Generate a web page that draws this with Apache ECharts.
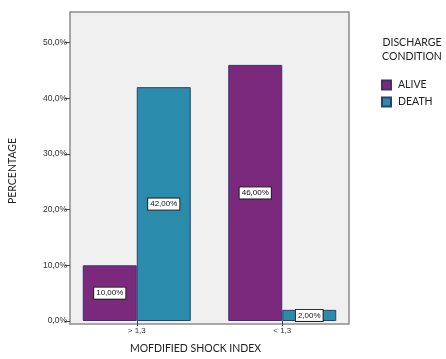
<!DOCTYPE html>
<html><head><meta charset="utf-8">
<script src="https://cdn.jsdelivr.net/npm/echarts@6/dist/echarts.min.js"></script>
<style>html,body{margin:0;padding:0;background:#fff}#c{width:446px;height:359px}</style>
</head><body><div id="c"></div>
<script>
var categories = ['> 1,3', '< 1,3'];
var alive = [10, 46];
var death = [42, 2];
var seriesNames = ['ALIVE', 'DEATH'];
var yTicks = [0, 10, 20, 30, 40, 50];

function pct2(v){ return v.toFixed(2).replace('.', ',') + '%'; }
function pct1(v){ return v.toFixed(1).replace('.', ',') + '%'; }

var chart = echarts.init(document.getElementById('c'), null, {renderer:'canvas'});
var FONT = 'Lato';
var labelStyle = {
  show: true, position: 'inside', color: '#111', fontSize: 8, fontFamily: 'Liberation Sans',
  backgroundColor: '#fff', borderColor: '#222', borderWidth: 1, padding: [2, 2, 1, 2],
  formatter: function(p){ return pct2(p.value); }
};
chart.setOption({
  animation: false,
  backgroundColor: '#fff',
  graphic: [{
    type: 'rect', z: -10, silent: true,
    shape: {x: 70, y: 12, width: 279, height: 312},
    style: {fill: '#f0f0f0', stroke: '#8c8c8c', lineWidth: 1.5}
  }, {
    type: 'text', x: 412, y: 43, silent: true,
    style: {text: 'DISCHARGE', fill: '#222', font: '10.5px Lato', textAlign: 'center', textVerticalAlign: 'middle'}
  }, {
    type: 'text', x: 412, y: 57, silent: true,
    style: {text: 'CONDITION', fill: '#222', font: '10.5px Lato', textAlign: 'center', textVerticalAlign: 'middle'}
  }, {
    type: 'text', x: 13, y: 171, rotation: Math.PI / 2, silent: true,
    style: {text: 'PERCENTAGE', fill: '#222', font: '10.5px Lato', textAlign: 'center', textVerticalAlign: 'middle'}
  }],
  legend: {
    data: seriesNames, orient: 'vertical', left: 381, top: 79, padding: 0, icon: 'rect',
    itemWidth: 9, itemHeight: 9, itemGap: 5,
    textStyle: {fontSize: 10.5, lineHeight: 12, color: '#222', fontFamily: FONT, padding: [0, 0, 0, 2]}
  },
  grid: {left: 64, right: 91, top: 12, bottom: 35, containLabel: false},
  xAxis: {
    type: 'category', data: categories,
    axisLine: {show: false},
    axisTick: {show: true, alignWithLabel: true, length: 5, lineStyle: {color: '#444'}},
    axisLabel: {fontSize: 8, color: '#333', margin: 6, fontFamily: 'Liberation Sans'},
    name: 'MOFDIFIED SHOCK INDEX', nameLocation: 'middle', nameGap: 22,
    nameTextStyle: {fontSize: 10.5, color: '#222', fontFamily: FONT, padding: [0, 28, 0, 0]}
  },
  yAxis: {
    type: 'value', min: 0, max: 55.5, interval: 10, offset: -6,
    axisLine: {show: false},
    axisTick: {show: true, length: 5, customValues: yTicks, lineStyle: {color: '#444'}},
    splitLine: {show: false},
    axisLabel: {fontSize: 8.5, color: '#333', margin: 3, fontFamily: 'Liberation Sans',
      customValues: yTicks, formatter: function(v){ return pct1(v); }}
  },
  series: [
    {name: seriesNames[0], type: 'bar', data: alive, barWidth: 54, barGap: '0%',
     itemStyle: {color: '#7b297c', borderColor: '#3a3370', borderWidth: 1}, label: labelStyle},
    {name: seriesNames[1], type: 'bar', data: death, barWidth: 54, barGap: '0%',
     itemStyle: {color: '#2a8bab', borderColor: '#2c4070', borderWidth: 1}, label: labelStyle}
  ]
});
</script></body></html>
